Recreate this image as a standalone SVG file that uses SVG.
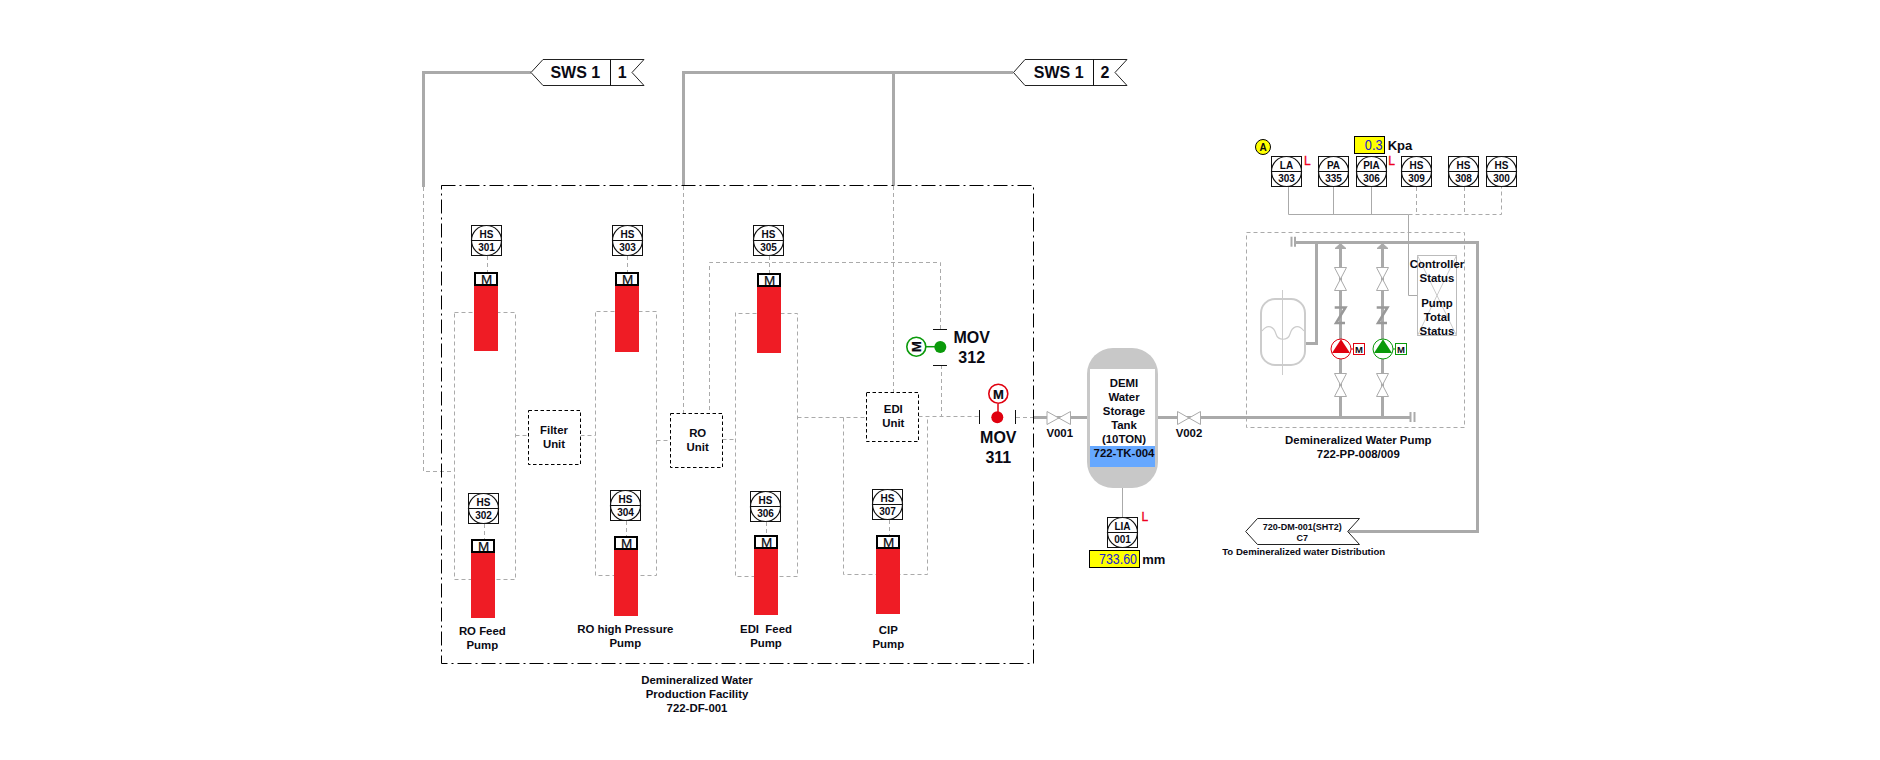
<svg xmlns="http://www.w3.org/2000/svg" width="1880" height="760" viewBox="0 0 1880 760">
<style>
text{font-family:"Liberation Sans",Arial,sans-serif;font-weight:bold;font-size:11.4px;fill:#0a0a14;text-anchor:middle}
.pipe{fill:none;stroke:#aaa;stroke-width:3}
.sig{fill:none;stroke:#aaa;stroke-width:1;stroke-dasharray:4 3}
.thin{fill:none;stroke:#aaa;stroke-width:1}
.frame{fill:none;stroke:#000;stroke-width:1;stroke-dasharray:14 4 2 4}
.unit{fill:#fff;stroke:#000;stroke-width:1;stroke-dasharray:3.5 2.5}
.tag{fill:#fff;stroke:#222;stroke-width:1}
.ibox{fill:#fff;stroke:#111;stroke-width:1}
.icirc{fill:#fff;stroke:#111;stroke-width:1.2}
.iline{stroke:#111;stroke-width:1}
.it{font-size:10px}
.red{fill:#ef1c25}
.mbox{fill:#fff;stroke:#000;stroke-width:2}
.mt{font-size:13.5px;font-weight:normal;stroke:#000;stroke-width:.2}
.valve{fill:#fff;stroke:#aaa;stroke-width:1}
.val{fill:#ff0;stroke:#000;stroke-width:1}
.num{font-weight:normal;font-size:14px;fill:#2020d0;text-anchor:end}
.unitt{font-size:13px;text-anchor:start}
.alarm{font-size:12px;fill:#ee0020;stroke:#ee0020;stroke-width:.3;text-anchor:start;font-weight:normal}
.mov{font-size:16px}
.sws{font-size:16px}
.lab9{font-size:9px}
.check{fill:none;stroke:#999;stroke-width:2.5}
.capline{stroke:#aaa;stroke-width:2}
</style>

<g id="connectors">
<path class="pipe" d="M531 72.5H423.5V187"/>
<path class="pipe" d="M1013 72.5H683.5V186"/>
<path class="pipe" d="M893.5 72.5V186"/>
<path class="sig" d="M423.5 187V471.5H454.5"/>
<path class="sig" d="M683.5 186V413.5"/>
<path class="sig" d="M893.5 186V392.5"/>
<path class="sig" d="M709.5 410V262.5H940.5V329"/>
<path class="sig" d="M941.5 365V416.5"/>
<path class="sig" d="M487.5 256V272"/>
<path class="sig" d="M627.5 256V272"/>
<path class="sig" d="M769.5 256V273"/>
<path class="sig" d="M484.5 524V539"/>
<path class="sig" d="M626.5 521V536"/>
<path class="sig" d="M766.5 522V535"/>
<path class="sig" d="M889.5 520V535"/>
<path class="sig" d="M454.5 313.5V579.5H515.5V312.5H454.5"/>
<path class="sig" d="M595.5 312.5V575.5H656.5V311.5H595.5"/>
<path class="sig" d="M735.5 312.5V576.5H797.5V313.5H735.5"/>
<path class="sig" d="M843.5 417.5V574.5H927.5V416.5"/>
<path class="sig" d="M515.5 435.5H528.5"/>
<path class="sig" d="M580.5 435.5H595.5"/>
<path class="sig" d="M656.5 440.5H670.5"/>
<path class="sig" d="M722.5 439.5H735.5"/>
<path class="sig" d="M797.5 417.5H866.5"/>
<path class="sig" d="M918.5 416.5H979"/>
<path class="sig" d="M1016 417.5H1033"/>
<path class="pipe" d="M1033 417.5H1087"/>
<path class="pipe" d="M1158 417.5H1410"/>
<path class="thin" d="M1122.5 488V517.5"/>
<path class="thin" d="M1288.5 187V214.5H1408.5V295.5H1417.5"/>
<path class="thin" d="M1333.5 187V214.5"/>
<path class="thin" d="M1371.5 187V214.5"/>
<path class="sig" d="M1408.5 214.5H1501.5V187"/>
<path class="sig" d="M1416.5 187V214.5"/>
<path class="sig" d="M1464.5 187V214.5"/>
<path class="pipe" d="M1295 242.5H1477.5V531.5H1348"/>
<path class="pipe" d="M1316.5 242.5V343.5H1305"/>
<path class="pipe" d="M1340.5 246V417.5"/>
<path class="pipe" d="M1382.5 246V417.5"/>
</g>

<g id="facility-frame">
<rect class="frame" x="441.5" y="185.5" width="592" height="478"/>
<text x="697" y="684">Demineralized Water</text>
<text x="697" y="698">Production Facility</text>
<text x="697" y="712">722-DF-001</text>
</g>

<g id="sws-1-1">
<path class="tag" d="M531 72.5L543 59.5H644L632 72.5L644 85.5H543Z"/>
<line class="iline" x1="610.5" y1="59.5" x2="610.5" y2="85.5"/>
<text class="sws" x="575.3" y="78.3">SWS 1</text>
<text class="sws" x="622.3" y="78.3">1</text>
</g>
<g id="sws-1-2">
<path class="tag" d="M1013.5 72.5L1025 59.5H1127L1115 72.5L1127 85.5H1025Z"/>
<line class="iline" x1="1093.5" y1="59.5" x2="1093.5" y2="85.5"/>
<text class="sws" x="1058.7" y="78.3">SWS 1</text>
<text class="sws" x="1105" y="78.3">2</text>
</g>

<g id="hs-301"><rect class="ibox" x="471.5" y="225.5" width="30" height="30"/><circle class="icirc" cx="486.5" cy="240.5" r="15"/><line class="iline" x1="471.5" y1="240.5" x2="501.5" y2="240.5"/><text class="it" x="486.5" y="237.5">HS</text><text class="it" x="486.5" y="250.5">301</text></g>
<g id="hs-303"><rect class="ibox" x="612.5" y="225.5" width="30" height="30"/><circle class="icirc" cx="627.5" cy="240.5" r="15"/><line class="iline" x1="612.5" y1="240.5" x2="642.5" y2="240.5"/><text class="it" x="627.5" y="237.5">HS</text><text class="it" x="627.5" y="250.5">303</text></g>
<g id="hs-305"><rect class="ibox" x="753.5" y="225.5" width="30" height="30"/><circle class="icirc" cx="768.5" cy="240.5" r="15"/><line class="iline" x1="753.5" y1="240.5" x2="783.5" y2="240.5"/><text class="it" x="768.5" y="237.5">HS</text><text class="it" x="768.5" y="250.5">305</text></g>
<g id="hs-302"><rect class="ibox" x="468.5" y="493.5" width="30" height="30"/><circle class="icirc" cx="483.5" cy="508.5" r="15"/><line class="iline" x1="468.5" y1="508.5" x2="498.5" y2="508.5"/><text class="it" x="483.5" y="505.5">HS</text><text class="it" x="483.5" y="518.5">302</text></g>
<g id="hs-304"><rect class="ibox" x="610.5" y="490.5" width="30" height="30"/><circle class="icirc" cx="625.5" cy="505.5" r="15"/><line class="iline" x1="610.5" y1="505.5" x2="640.5" y2="505.5"/><text class="it" x="625.5" y="502.5">HS</text><text class="it" x="625.5" y="515.5">304</text></g>
<g id="hs-306"><rect class="ibox" x="750.5" y="491.5" width="30" height="30"/><circle class="icirc" cx="765.5" cy="506.5" r="15"/><line class="iline" x1="750.5" y1="506.5" x2="780.5" y2="506.5"/><text class="it" x="765.5" y="503.5">HS</text><text class="it" x="765.5" y="516.5">306</text></g>
<g id="hs-307"><rect class="ibox" x="872.5" y="489.5" width="30" height="30"/><circle class="icirc" cx="887.5" cy="504.5" r="15"/><line class="iline" x1="872.5" y1="504.5" x2="902.5" y2="504.5"/><text class="it" x="887.5" y="501.5">HS</text><text class="it" x="887.5" y="514.5">307</text></g>

<g id="motor-301"><rect class="red" x="474" y="286" width="24" height="65"/><rect class="mbox" x="475" y="273" width="22" height="12"/><text class="mt" x="486.5" y="284">M</text></g>
<g id="motor-303"><rect class="red" x="615" y="286" width="24" height="66"/><rect class="mbox" x="616" y="273" width="22" height="12"/><text class="mt" x="627.5" y="284">M</text></g>
<g id="motor-305"><rect class="red" x="757" y="287" width="24" height="66"/><rect class="mbox" x="758" y="274" width="22" height="12"/><text class="mt" x="769.5" y="285">M</text></g>
<g id="motor-302"><rect class="red" x="471" y="553" width="24" height="65"/><rect class="mbox" x="472" y="540" width="22" height="12"/><text class="mt" x="483.5" y="551">M</text></g>
<g id="motor-304"><rect class="red" x="614" y="550" width="24" height="66"/><rect class="mbox" x="615" y="537" width="22" height="12"/><text class="mt" x="626.5" y="548">M</text></g>
<g id="motor-306"><rect class="red" x="754" y="549" width="24" height="66"/><rect class="mbox" x="755" y="536" width="22" height="12"/><text class="mt" x="766.5" y="547">M</text></g>
<g id="motor-307"><rect class="red" x="876" y="549" width="24" height="65"/><rect class="mbox" x="877" y="536" width="22" height="12"/><text class="mt" x="888.5" y="547">M</text></g>

<g id="label-ro-feed"><text x="482.3" y="635">RO Feed</text><text x="482.3" y="649">Pump</text></g>
<g id="label-ro-high"><text x="625.3" y="633.3">RO high Pressure</text><text x="625.3" y="647.3">Pump</text></g>
<g id="label-edi-feed"><text x="766" y="633.3" xml:space="preserve">EDI  Feed</text><text x="766" y="647.3">Pump</text></g>
<g id="label-cip"><text x="888.3" y="633.7">CIP</text><text x="888.3" y="647.7">Pump</text></g>

<g id="filter-unit"><rect class="unit" x="528.5" y="410.5" width="52" height="54"/><text x="554" y="434">Filter</text><text x="554" y="448">Unit</text></g>
<g id="ro-unit"><rect class="unit" x="670.5" y="413.5" width="52" height="54"/><text x="697.7" y="437">RO</text><text x="697.7" y="451">Unit</text></g>
<g id="edi-unit"><rect class="unit" x="866.5" y="392.5" width="52" height="49"/><text x="893.3" y="413.3">EDI</text><text x="893.3" y="427.3">Unit</text></g>

<g id="mov-312">
<line class="iline" x1="933" y1="329.5" x2="947" y2="329.5"/><line class="iline" x1="933" y1="365.5" x2="947" y2="365.5"/>
<line x1="926" y1="346.7" x2="940" y2="346.7" stroke="#0a9a0a" stroke-width="1.5"/>
<circle cx="940.3" cy="347" r="6" fill="#0a9a0a"/>
<circle cx="916.3" cy="346.7" r="9.5" fill="#fff" stroke="#0a9a0a" stroke-width="1.6"/>
<text class="mt" x="0" y="0" transform="translate(921 346.7) rotate(-90)" style="font-weight:bold;font-size:13px">M</text>
<text class="mov" x="971.7" y="342.7">MOV</text><text class="mov" x="971.7" y="362.7">312</text>
</g>
<g id="mov-311">
<line class="iline" x1="979.5" y1="410" x2="979.5" y2="424"/><line class="iline" x1="1015.5" y1="410" x2="1015.5" y2="424"/>
<line x1="998" y1="404" x2="998" y2="417" stroke="#e0000f" stroke-width="1.5"/>
<circle cx="997.3" cy="417.3" r="6" fill="#e0000f"/>
<circle cx="998.3" cy="393.7" r="9.5" fill="#fff" stroke="#e0000f" stroke-width="1.6"/>
<text class="mt" x="998.3" y="398.7" style="font-weight:bold;font-size:13px">M</text>
<text class="mov" x="998.3" y="442.7">MOV</text><text class="mov" x="998.3" y="462.7">311</text>
</g>

<g id="v001"><path class="valve" d="M1047 411.5L1070.5 424.5V411.5L1047 424.5Z"/><text x="1059.7" y="437">V001</text></g>
<g id="v002"><path class="valve" d="M1177.5 411.5L1200.5 424.5V411.5L1177.5 424.5Z"/><text x="1189" y="437">V002</text></g>

<g id="tank-722-tk-004">
<rect x="1087" y="348" width="71" height="140" rx="26" fill="#c8c8c8"/>
<rect x="1090" y="369" width="65" height="77" fill="#fff"/>
<rect x="1090" y="446" width="65" height="21" fill="#66a8ff"/>
<text x="1124" y="386.7">DEMI</text><text x="1124" y="400.7">Water</text><text x="1124" y="414.7">Storage</text><text x="1124" y="428.7">Tank</text><text x="1124" y="442.7">(10TON)</text><text x="1124" y="457">722-TK-004</text>
</g>

<g id="lia-001">
<rect class="ibox" x="1107.5" y="517.5" width="30" height="30"/><circle class="icirc" cx="1122.5" cy="532.5" r="15"/><line class="iline" x1="1107.5" y1="532.5" x2="1137.5" y2="532.5"/><text class="it" x="1122.5" y="530">LIA</text><text class="it" x="1122.5" y="542.5">001</text>
<text class="alarm" x="1141.5" y="520.7">L</text>
<rect class="val" x="1089.5" y="550.5" width="50" height="17"/><text class="num" x="1137" y="564.3" textLength="38" lengthAdjust="spacingAndGlyphs">733.60</text><text class="unitt" x="1142.3" y="564.3">mm</text>
</g>

<g id="alarm-a"><circle cx="1263" cy="147" r="7.5" fill="#ff0" stroke="#000" stroke-width="1"/><text x="1263" y="151" style="font-size:10px">A</text></g>
<g id="la-303"><rect class="ibox" x="1271.5" y="156.5" width="30" height="30"/><circle class="icirc" cx="1286.5" cy="171.5" r="15"/><line class="iline" x1="1271.5" y1="171.5" x2="1301.5" y2="171.5"/><text class="it" x="1286.5" y="169">LA</text><text class="it" x="1286.5" y="181.5">303</text><text class="alarm" x="1304" y="165">L</text></g>
<g id="pa-335"><rect class="ibox" x="1318.5" y="156.5" width="30" height="30"/><circle class="icirc" cx="1333.5" cy="171.5" r="15"/><line class="iline" x1="1318.5" y1="171.5" x2="1348.5" y2="171.5"/><text class="it" x="1333.5" y="169">PA</text><text class="it" x="1333.5" y="181.5">335</text></g>
<g id="pia-306"><rect class="ibox" x="1356.5" y="156.5" width="30" height="30"/><circle class="icirc" cx="1371.5" cy="171.5" r="15"/><line class="iline" x1="1356.5" y1="171.5" x2="1386.5" y2="171.5"/><text class="it" x="1371.5" y="169">PIA</text><text class="it" x="1371.5" y="181.5">306</text><text class="alarm" x="1388.3" y="165">L</text>
<rect class="val" x="1354.5" y="136.5" width="30" height="17"/><text class="num" x="1382.5" y="150" textLength="17.7" lengthAdjust="spacingAndGlyphs">0.3</text><text class="unitt" x="1387.7" y="150">Kpa</text></g>
<g id="hs-309"><rect class="ibox" x="1401.5" y="156.5" width="30" height="30"/><circle class="icirc" cx="1416.5" cy="171.5" r="15"/><line class="iline" x1="1401.5" y1="171.5" x2="1431.5" y2="171.5"/><text class="it" x="1416.5" y="169">HS</text><text class="it" x="1416.5" y="181.5">309</text></g>
<g id="hs-308"><rect class="ibox" x="1448.5" y="156.5" width="30" height="30"/><circle class="icirc" cx="1463.5" cy="171.5" r="15"/><line class="iline" x1="1448.5" y1="171.5" x2="1478.5" y2="171.5"/><text class="it" x="1463.5" y="169">HS</text><text class="it" x="1463.5" y="181.5">308</text></g>
<g id="hs-300"><rect class="ibox" x="1486.5" y="156.5" width="30" height="30"/><circle class="icirc" cx="1501.5" cy="171.5" r="15"/><line class="iline" x1="1486.5" y1="171.5" x2="1516.5" y2="171.5"/><text class="it" x="1501.5" y="169">HS</text><text class="it" x="1501.5" y="181.5">300</text></g>

<g id="pump-package">
<rect class="sig" x="1246.5" y="232.5" width="218" height="195"/>
<text x="1358.3" y="443.7">Demineralized Water Pump</text><text x="1358.3" y="457.7">722-PP-008/009</text>
<line class="capline" x1="1291.5" y1="236.7" x2="1291.5" y2="246.7"/><line class="capline" x1="1295" y1="236.7" x2="1295" y2="246.7"/>
<line class="capline" x1="1410.5" y1="412" x2="1410.5" y2="422"/><line class="capline" x1="1414.5" y1="412" x2="1414.5" y2="422"/>
</g>

<g id="pump-tank">
<rect x="1261" y="299" width="44" height="66" rx="14" fill="#fff" stroke="#ccc" stroke-width="2"/>
<line x1="1282.5" y1="290" x2="1282.5" y2="375" stroke="#ccc" stroke-width="1"/>
<path d="M1262 331C1268 323 1274 327 1276 334C1278 341 1288 341 1290 334C1292 327 1298 323 1304 331" fill="none" stroke="#ccc" stroke-width="1.2"/>
</g>

<g id="pump-008">
<path d="M1340.5 243.5L1346 248.5H1335Z" fill="#aaa" stroke="#aaa"/>
<path class="valve" d="M1334.5 267.5H1346.5L1334.5 290.5H1346.5Z"/>
<path class="check" d="M1334.7 307.5H1345.5L1336 323H1345"/>
<path class="valve" d="M1334.5 373.5H1346.5L1334.5 396.5H1346.5Z"/>
<circle cx="1341" cy="349" r="10" fill="#fff" stroke="#e0000f" stroke-width="1"/>
<path d="M1341 339.3L1350 353H1332Z" fill="#e0000f"/>
<line x1="1351" y1="349" x2="1353.5" y2="349" stroke="#e0000f"/>
<rect x="1353.5" y="343.5" width="11" height="11" fill="#fff" stroke="#e0000f"/>
<text x="1359" y="352.5" style="font-size:9.5px">M</text>
</g>
<g id="pump-009">
<path d="M1382.5 243.5L1388 248.5H1377Z" fill="#aaa" stroke="#aaa"/>
<path class="valve" d="M1376.5 267.5H1388.5L1376.5 290.5H1388.5Z"/>
<path class="check" d="M1376.7 307.5H1387.5L1378 323H1387"/>
<path class="valve" d="M1376.5 373.5H1388.5L1376.5 396.5H1388.5Z"/>
<circle cx="1383" cy="349" r="10" fill="#fff" stroke="#0a9a0a" stroke-width="1"/>
<path d="M1383 339.3L1392 353H1374Z" fill="#0a9a0a"/>
<line x1="1393" y1="349" x2="1395.5" y2="349" stroke="#0a9a0a"/>
<rect x="1395.5" y="343.5" width="11" height="11" fill="#fff" stroke="#0a9a0a"/>
<text x="1401" y="352.5" style="font-size:9.5px">M</text>
</g>

<g id="controller-status">
<rect x="1417.5" y="255.5" width="39" height="80" fill="#fff" stroke="#bbb" stroke-width="1"/>
<path d="M1417.5 255.5L1456.5 335.5M1456.5 255.5L1417.5 335.5" fill="none" stroke="#ccc" stroke-width="1"/>
<text x="1437" y="267.7">Controller</text><text x="1437" y="281.7">Status</text><text x="1437" y="307">Pump</text><text x="1437" y="321">Total</text><text x="1437" y="334.7">Status</text>
</g>

<g id="tag-720-dm-001">
<path class="tag" d="M1245.7 531.5L1257.5 518.5H1359.5L1347.7 531.5L1359.5 544.5H1257.5Z"/>
<text class="lab9" x="1302.3" y="530">720-DM-001(SHT2)</text><text class="lab9" x="1302.3" y="540.7">C7</text>
<text x="1303.7" y="555" style="font-size:9.6px">To Demineralized water Distribution</text>
</g>
</svg>
